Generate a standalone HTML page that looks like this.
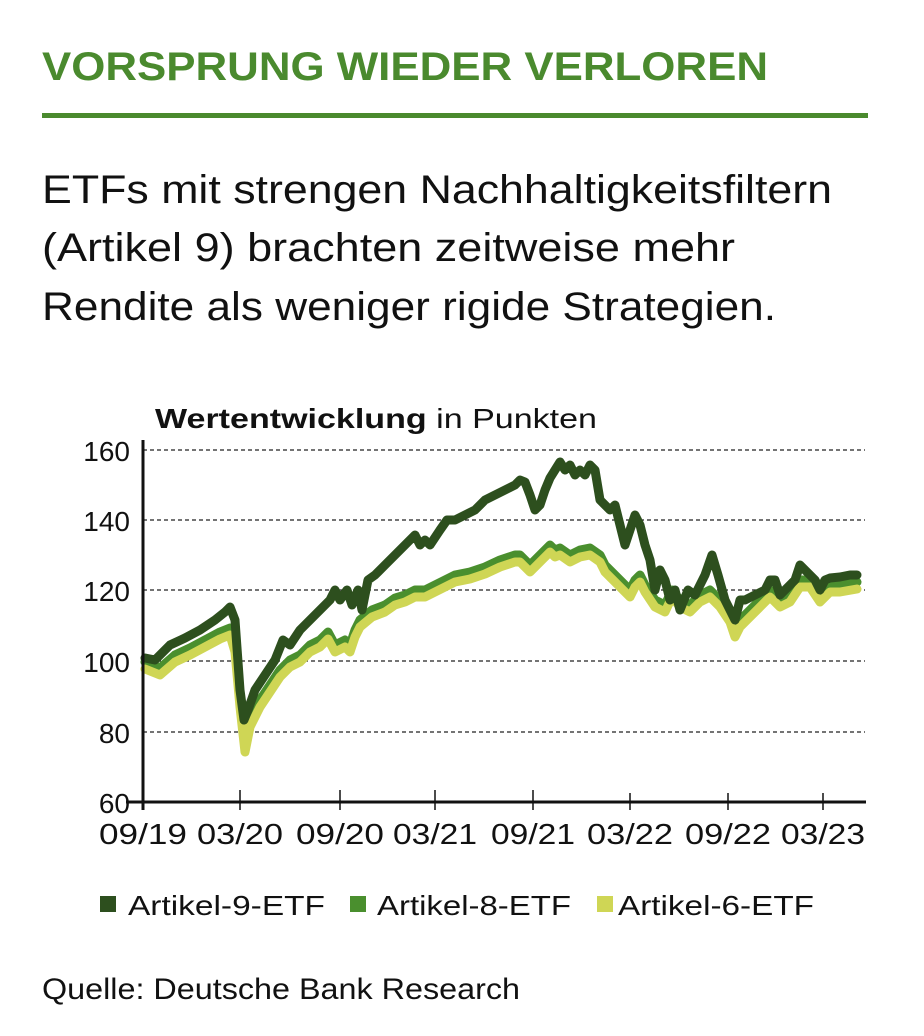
<!DOCTYPE html>
<html><head><meta charset="utf-8"><style>
html,body{margin:0;padding:0;background:#fff;}
svg{display:block;font-family:"Liberation Sans",sans-serif;}
</style></head><body>
<svg width="924" height="1036" viewBox="0 0 924 1036" xmlns="http://www.w3.org/2000/svg">
<text x="42" y="80" font-size="40" font-weight="bold" fill="#4a8a2e" textLength="726" lengthAdjust="spacingAndGlyphs">VORSPRUNG WIEDER VERLOREN</text>
<rect x="42" y="113" width="826" height="5" fill="#4a8a2e"/>
<g font-size="40" fill="#111">
<text x="42" y="203" textLength="790" lengthAdjust="spacingAndGlyphs">ETFs mit strengen Nachhaltigkeitsfiltern</text>
<text x="42" y="261" textLength="693" lengthAdjust="spacingAndGlyphs">(Artikel 9) brachten zeitweise mehr</text>
<text x="42" y="320" textLength="734" lengthAdjust="spacingAndGlyphs">Rendite als weniger rigide Strategien.</text>
</g>
<text x="155" y="428" font-size="28" fill="#111" textLength="442" lengthAdjust="spacingAndGlyphs"><tspan font-weight="bold">Wertentwicklung</tspan> in Punkten</text>
<g stroke="#222" stroke-width="1.3" stroke-dasharray="4,3">
<line x1="143" y1="450" x2="865" y2="450"/>
<line x1="143" y1="520" x2="865" y2="520"/>
<line x1="143" y1="590" x2="865" y2="590"/>
<line x1="143" y1="661" x2="865" y2="661"/>
<line x1="143" y1="732" x2="865" y2="732"/>
</g>
<g font-size="28" fill="#111" text-anchor="end">
<text x="130" y="461">160</text><text x="130" y="531">140</text><text x="130" y="601">120</text>
<text x="130" y="672">100</text><text x="130" y="743">80</text><text x="130" y="813">60</text>
</g>
<g fill="none" stroke-linejoin="round" stroke-linecap="round" stroke-width="9">
<polyline stroke="#4a8f2e" points="145,662 160,668 175,655 190,648 205,640 220,632 230,628 235,645 240,700 245,745 250,720 260,700 270,685 280,670 290,660 300,655 310,645 320,640 328,632 335,645 345,640 350,645 355,630 360,620 372,610 385,605 395,598 405,595 415,590 425,590 435,585 445,580 455,575 470,572 485,567 500,560 515,555 520,555 530,565 540,555 550,545 555,550 560,548 570,555 580,550 590,548 600,555 605,565 610,570 620,580 630,590 635,580 640,575 645,585 655,600 665,605 672,590 680,600 690,605 700,595 710,590 720,600 730,615 735,630 740,620 750,610 760,600 770,590 780,600 790,595 800,580 810,580 820,595 830,585 840,585 857,582"/>
<polyline stroke="#cfd655" transform="translate(0,7)" points="145,662 160,668 175,655 190,648 205,640 220,632 230,628 235,645 240,700 245,745 250,720 260,700 270,685 280,670 290,660 300,655 310,645 320,640 328,632 335,645 345,640 350,645 355,630 360,620 372,610 385,605 395,598 405,595 415,590 425,590 435,585 445,580 455,575 470,572 485,567 500,560 515,555 520,555 530,565 540,555 550,545 555,550 560,548 570,555 580,550 590,548 600,555 605,565 610,570 620,580 630,590 635,580 640,575 645,585 655,600 665,605 672,590 680,600 690,605 700,595 710,590 720,600 730,615 735,630 740,620 750,610 760,600 770,590 780,600 790,595 800,580 810,580 820,595 830,585 840,585 857,582"/>
<polyline stroke="#2d4f1e" points="145,658 155,660 170,645 185,638 200,630 215,620 225,612 230,607 235,620 240,690 244,720 248,710 255,690 265,675 275,660 283,640 290,645 300,630 310,620 320,610 330,600 335,590 340,600 347,590 352,605 358,590 362,610 368,580 375,575 385,565 395,555 405,545 410,540 415,535 420,545 425,540 430,545 440,530 447,520 455,520 465,515 475,510 485,500 495,495 505,490 515,485 520,480 525,482 530,495 535,510 540,505 545,490 550,478 560,462 565,470 570,465 575,475 580,470 585,475 590,465 595,470 600,500 605,505 610,510 615,505 620,525 625,545 630,530 635,515 640,525 645,545 650,560 655,590 660,570 665,580 670,600 675,590 680,610 688,590 695,595 705,575 712,555 718,575 725,600 730,610 735,620 740,600 745,600 755,595 765,590 770,580 775,580 780,595 785,590 795,580 800,565 805,570 810,575 815,580 820,590 825,580 830,578 840,577 850,575 857,575"/>
</g>
<line x1="143" y1="440" x2="143" y2="810" stroke="#111" stroke-width="3"/>
<line x1="126" y1="802" x2="866" y2="802" stroke="#111" stroke-width="3"/>
<g stroke="#111" stroke-width="1.5">
<line x1="240" y1="790" x2="240" y2="810"/><line x1="340" y1="790" x2="340" y2="810"/>
<line x1="435" y1="790" x2="435" y2="810"/><line x1="533" y1="790" x2="533" y2="810"/>
<line x1="630" y1="793" x2="630" y2="810"/><line x1="728" y1="793" x2="728" y2="810"/>
<line x1="823" y1="793" x2="823" y2="810"/>
</g>
<g font-size="29" fill="#111" text-anchor="middle">
<text x="143" y="844" textLength="88" lengthAdjust="spacingAndGlyphs">09/19</text><text x="240" y="844" textLength="86" lengthAdjust="spacingAndGlyphs">03/20</text><text x="340" y="844" textLength="88" lengthAdjust="spacingAndGlyphs">09/20</text>
<text x="435" y="844" textLength="84" lengthAdjust="spacingAndGlyphs">03/21</text><text x="533" y="844" textLength="84" lengthAdjust="spacingAndGlyphs">09/21</text><text x="630" y="844" textLength="86" lengthAdjust="spacingAndGlyphs">03/22</text>
<text x="728" y="844" textLength="86" lengthAdjust="spacingAndGlyphs">09/22</text><text x="823" y="844" textLength="84" lengthAdjust="spacingAndGlyphs">03/23</text>
</g>
<rect x="100" y="896" width="16" height="16" fill="#2d4f1e"/>
<rect x="350" y="896" width="16" height="16" fill="#4a8f2e"/>
<rect x="597" y="896" width="16" height="16" fill="#cfd655"/>
<g font-size="28" fill="#111">
<text x="128" y="915" textLength="197" lengthAdjust="spacingAndGlyphs">Artikel-9-ETF</text>
<text x="377" y="915" textLength="194" lengthAdjust="spacingAndGlyphs">Artikel-8-ETF</text>
<text x="618" y="915" textLength="196" lengthAdjust="spacingAndGlyphs">Artikel-6-ETF</text>
</g>
<text x="42" y="999" font-size="30" fill="#111" textLength="478" lengthAdjust="spacingAndGlyphs">Quelle: Deutsche Bank Research</text>
</svg>
</body></html>
